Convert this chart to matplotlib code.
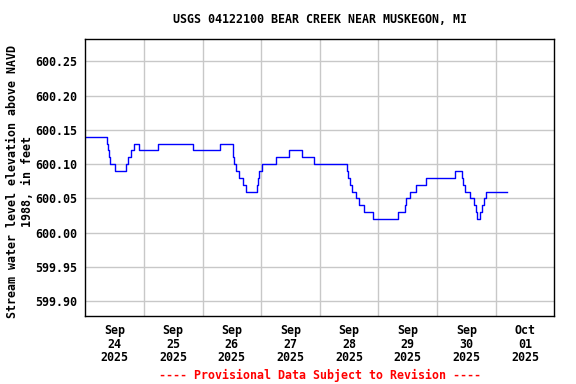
import matplotlib
matplotlib.use("Agg")
import matplotlib.pyplot as plt

# Data: hours since 2025-09-24 00:00, value (step changes)
hours = [0, 8.75, 9.25, 9.75, 10.0, 12.25, 16.5, 17.5, 18.75, 20.0, 22.0,
         29.75, 44.0, 55.0, 60.5, 61.0, 61.5, 62.75, 64.5, 65.75, 70.25,
         70.75, 71.25, 72.5, 78.0, 83.25, 88.75, 93.5, 107.0, 107.75, 108.5,
         109.25, 111.0, 112.25, 114.0, 117.75, 128.0, 130.75, 131.25, 132.75,
         135.25, 139.5, 151.5, 154.25, 154.75, 155.5, 157.5, 159.25, 160.0,
         160.5, 161.5, 162.5, 163.25, 164.0, 172.5]
values = [600.14, 600.13, 600.12, 600.11, 600.10, 600.09, 600.10, 600.11, 600.12, 600.13, 600.12,
          600.13, 600.12, 600.13, 600.11, 600.10, 600.09, 600.08, 600.07, 600.06, 600.07,
          600.08, 600.09, 600.10, 600.11, 600.12, 600.11, 600.10, 600.09, 600.08, 600.07,
          600.06, 600.05, 600.04, 600.03, 600.02, 600.03, 600.04, 600.05, 600.06,
          600.07, 600.08, 600.09, 600.08, 600.07, 600.06, 600.05, 600.04, 600.03,
          600.02, 600.03, 600.04, 600.05, 600.06, 600.06]

xtick_labels = ["Sep\n24\n2025", "Sep\n25\n2025", "Sep\n26\n2025", "Sep\n27\n2025",
                "Sep\n28\n2025", "Sep\n29\n2025", "Sep\n30\n2025", "Oct\n01\n2025"]
yticks = [599.90, 599.95, 600.00, 600.05, 600.10, 600.15, 600.20, 600.25]

title = "USGS 04122100 BEAR CREEK NEAR MUSKEGON, MI"
ylabel = "Stream water level elevation above NAVD\n1988, in feet"
footer = "---- Provisional Data Subject to Revision ----"

plt.rcParams['font.family'] = ['DejaVu Sans Mono']
plt.rcParams['font.weight'] = 'bold'
FS = 8.4

fig = plt.figure(figsize=(5.76, 3.84), dpi=100)
ax = fig.add_axes([0.1481, 0.1779, 0.8142, 0.7198])

ax.plot(hours, values, drawstyle='steps-post', color='#0000FF', lw=1.0)

ax.set_xlim(0, 192)
ax.set_ylim(599.879, 600.282)

ax.set_xticks([24 * i for i in range(1, 8)])
ax.set_xticklabels([])
ax.set_xticks([12 + 24 * i for i in range(8)], minor=True)
ax.set_xticklabels(xtick_labels, minor=True, fontsize=FS, fontweight='bold',
                   linespacing=1.05)
ax.set_yticks(yticks)
ax.set_yticklabels([f"{v:.2f}" for v in yticks], fontsize=FS, fontweight='bold')

ax.tick_params(axis='both', which='both', length=0)
ax.tick_params(axis='x', which='minor', pad=6)
ax.tick_params(axis='y', pad=6)

ax.grid(True, which='major', color='#c8c8c8', lw=1.0)
ax.set_axisbelow(True)
for s in ax.spines.values():
    s.set_color('black')
    s.set_linewidth(1.0)

fig.text(0.5547, 0.950, title, ha='center', va='center', fontsize=FS, fontweight='bold')
fig.text(0.0345, 0.528, ylabel, ha='center', va='center', rotation=90,
         fontsize=FS, fontweight='bold', linespacing=1.15, multialignment='center')
fig.text(0.5547, 0.0235, footer, ha='center', va='center', fontsize=FS,
         fontweight='bold', color='#FF0000')

fig.savefig("out.png", dpi=100)
